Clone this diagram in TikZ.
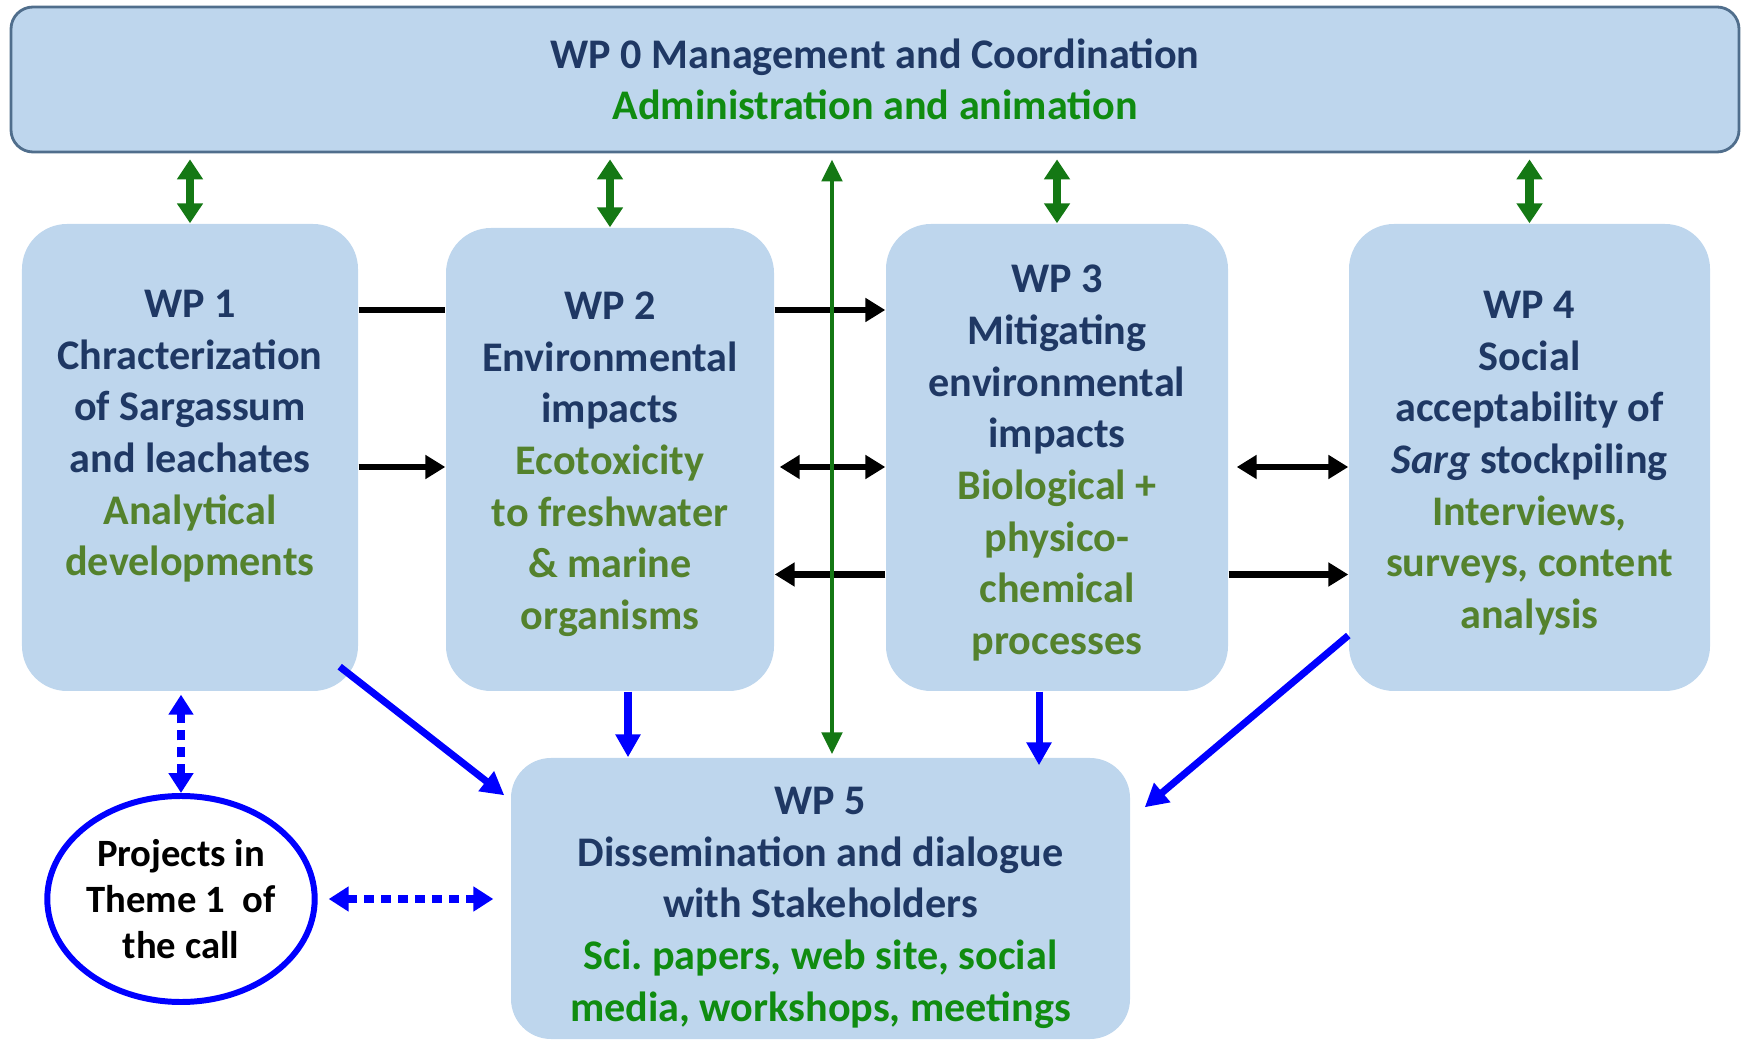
\documentclass[tikz,border=0pt]{standalone}
\usepackage{fontspec}
\setmainfont{Carlito}
\usepackage{tikz}
\usetikzlibrary{arrows.meta,calc,shapes.geometric}
\definecolor{boxblue}{RGB}{190,214,237}
\definecolor{wpblue}{RGB}{31,56,100}
\definecolor{olivegr}{RGB}{84,130,45}
\definecolor{brightgr}{RGB}{16,140,16}
\definecolor{arrgreen}{RGB}{20,120,20}
\definecolor{edgeblue}{RGB}{80,110,140}
\newcommand{\olv}[1]{\textcolor{olivegr}{#1}}
\newcommand{\brg}[1]{\textcolor{brightgr}{#1}}
\newcommand{\wpt}[2][13pt]{\rule{0pt}{#1}#2}

\begin{document}
\begin{tikzpicture}[
  wpbox/.style={fill=boxblue,rounded corners=.45cm,align=center,text=wpblue,inner sep=2pt,
    font=\fontsize{12}{14.7}\selectfont\bfseries},
  topbox/.style={wpbox,draw=edgeblue,line width=.8pt,rounded corners=.22cm},
  callnode/.style={ellipse,draw=blue,line width=1.7pt,inner sep=0pt,align=center,
    font=\fontsize{11}{13}\selectfont\bfseries},
  grarr/.style={arrgreen,line width=2.3pt,>={Triangle[length=2mm,width=2.5mm]},<->},
  grlong/.style={arrgreen,line width=1.4pt,>={Triangle[length=2.2mm,width=2mm]},<->},
  blkarr/.style={black,line width=1.8pt,>={Triangle[length=2mm,width=2.3mm]}},
  bluarr/.style={blue,line width=2pt,>={Triangle[length=2.3mm,width=2.4mm]},->},
  bludot/.style={blue,line width=2pt,dash pattern=on 1mm off .7mm,
    >={Triangle[length=2mm,width=2.4mm]},<->}]
  \useasboundingbox (0,0) rectangle (17.41,10.42);

  \node[topbox,minimum width=17.28cm,minimum height=1.45cm] (wp0) at (8.75,9.625)
    {WP 0 Management and Coordination\\\brg{Administration and animation}};
  \node[wpbox,minimum width=3.36cm,minimum height=4.67cm] (wp1) at (1.90,5.845)
    {\wpt{WP 1}\\Chracterization\\of Sargassum\\and leachates\\\olv{Analytical}\\\olv{developments}\\\strut};
  \node[wpbox,minimum width=3.28cm,minimum height=4.63cm] (wp2) at (6.10,5.825)
    {\wpt[10.5pt]{WP 2}\\Environmental\\impacts\\\olv{Ecotoxicity}\\\olv{to freshwater}\\\olv{\& marine}\\\olv{organisms}};
  \node[wpbox,minimum width=3.42cm,minimum height=4.67cm] (wp3) at (10.57,5.845)
    {\wpt[11pt]{WP 3}\\Mitigating\\environmental\\impacts\\\olv{Biological +}\\\olv{physico-}\\\olv{chemical}\\\olv{processes}};
  \node[wpbox,minimum width=3.61cm,minimum height=4.67cm] (wp4) at (15.295,5.845)
    {\wpt[11pt]{WP 4}\\Social\\acceptability of\\\textit{Sarg} stockpiling\\\olv{Interviews,}\\\olv{surveys, content}\\\olv{analysis}};
  \node[wpbox,rounded corners=.4cm,minimum width=6.19cm,minimum height=2.81cm] (wp5) at (8.205,1.435)
    {\wpt{WP 5}\\Dissemination and dialogue\\with Stakeholders\\\brg{Sci.\ papers, web site, social}\\\brg{media, workshops, meetings}};
  \node[callnode,minimum width=2.6cm,minimum height=2.06cm] (circ) at (1.81,1.43)
    {Projects in\\Theme 1\ \ of\\the call};

  \coordinate (ra) at (0,7.32);
  \coordinate (rb) at (0,5.75);
  \coordinate (rc) at (0,4.675);
  \coordinate (gx) at (8.32,0);
  \coordinate (b2) at ([xshift=1.8mm]wp2.south);
  \coordinate (b3) at ([xshift=-1.8mm]wp3.south);

  \foreach \n in {wp1,wp2,wp3,wp4}
    \draw[grarr,shorten <=.6mm] (wp0.south -| \n.north) -- (\n.north);

  \draw[blkarr] (wp1.east |- ra) -- (wp2.west |- ra);
  \draw[blkarr,->] (wp1.east |- rb) -- (wp2.west |- rb);
  \draw[blkarr,->] (wp2.east |- ra) -- (wp3.west |- ra);
  \draw[blkarr,<->,shorten <=.5mm] (wp2.east |- rb) -- (wp3.west |- rb);
  \draw[blkarr,->] (wp3.west |- rc) -- (wp2.east |- rc);
  \draw[blkarr,<->,shorten <=.8mm] (wp3.east |- rb) -- (wp4.west |- rb);
  \draw[blkarr,->] (wp3.east |- rc) -- (wp4.west |- rc);

  \draw[grlong,shorten <=.6mm,shorten >=.3mm] (wp0.south -| gx) -- (wp5.north -| gx);

  \draw[bluarr] ($(wp1.south east)+(-0.19,0.25)$) -- ($(wp5.north west)+(-0.06,-0.38)$);
  \draw[bluarr] (b2) -- (b2 |- wp5.north);
  \draw[bluarr,shorten >=-.8mm] (b3) -- (b3 |- wp5.north);
  \draw[bluarr] ($(wp4.west)+(0,-1.78)$) -- ($(wp5.north east)+(0.14,-0.50)$);

  \draw[bludot,shorten >=.3mm] (circ.north) -- (circ.north |- wp1.south);
  \draw[bludot,shorten <=1.1mm,shorten >=1.7mm] (circ.east) -- (circ.east -| wp5.west);
\end{tikzpicture}
\end{document}
